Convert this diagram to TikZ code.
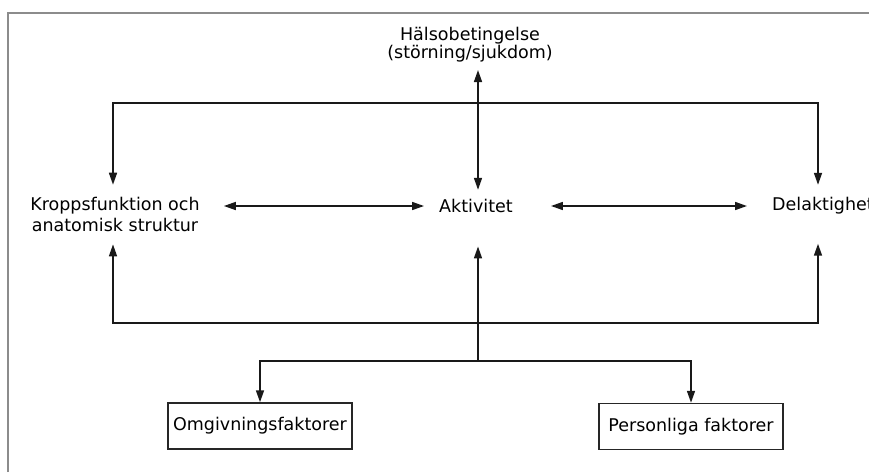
\documentclass[tikz,border=0pt]{standalone}
\usepackage{fontspec}
\setmainfont{DejaVu Sans}
\usetikzlibrary{arrows.meta}
\tikzset{
  lbl/.style={inner sep=0pt, align=center, font=\fontsize{17.5}{18}\selectfont},
  boxnode/.style={draw=black!85, line width=1.5pt, minimum width=184pt, minimum height=46pt, inner sep=0pt, font=\fontsize{17.5}{18}\selectfont},
  conn/.style={draw=black!90, line width=1.6pt, line join=miter},
  arr/.style={conn, -{Triangle[length=12pt,width=8pt]}},
  dbl/.style={conn, {Triangle[length=12pt,width=8pt]}-{Triangle[length=12pt,width=8pt]}},
  frame/.style={draw=black!45, line width=1.6pt}
}
\begin{document}
\begin{tikzpicture}[x=1pt,y=-1pt]
\useasboundingbox (0,0) rectangle (869,472);
% frame
\draw[frame] (8,472) -- (8,13) -- (869,13);
% axis coordinates
\coordinate (cx) at (478,0);
\coordinate (lx) at (113,0);
\coordinate (rx) at (818,0);
\coordinate (topbar) at (0,103);
\coordinate (botbar) at (0,323);
\coordinate (boxbar) at (0,361);
\coordinate (hy) at (0,206);
% nodes
\node[lbl] (hals) at (470,44.4) {Hälsobetingelse\\(störning/sjukdom)};
\node[lbl, font=\fontsize{17.5}{21}\selectfont] (kropp) at (115,214.9) {Kroppsfunktion och\\anatomisk struktur};
\node[lbl, anchor=base] (akt) at (476,212) {Aktivitet};
\node[lbl, anchor=base west] (del) at (772,210) {Delaktighet};
\node[boxnode] (omg) at (260,426) {Omgivningsfaktorer};
\node[boxnode] (pers) at (691,426.5) {Personliga faktorer};
% connectors
\draw[dbl, shorten <=8pt, shorten >=8.7pt] (hals.south -| cx) -- (akt.north -| cx);
\draw[dbl, shorten <=12.7pt, shorten >=11.7pt] (kropp.north -| lx) |- (topbar -| cx) -| (del.north -| rx);
\draw[dbl, shorten <=12pt, shorten >=29.9pt] (kropp.south -| lx) |- (botbar -| cx) -| (del.south -| rx);
\draw[arr, shorten >=34pt] (boxbar -| cx) -- (akt.south -| cx);
\draw[dbl] (omg.north) |- (boxbar -| cx) -| (pers.north);
\draw[dbl, shorten <=24pt, shorten >=15pt] (kropp.east |- hy) -- (akt.west |- hy);
\draw[dbl, shorten <=38pt, shorten >=25pt] (akt.east |- hy) -- (del.west |- hy);
\end{tikzpicture}
\end{document}
